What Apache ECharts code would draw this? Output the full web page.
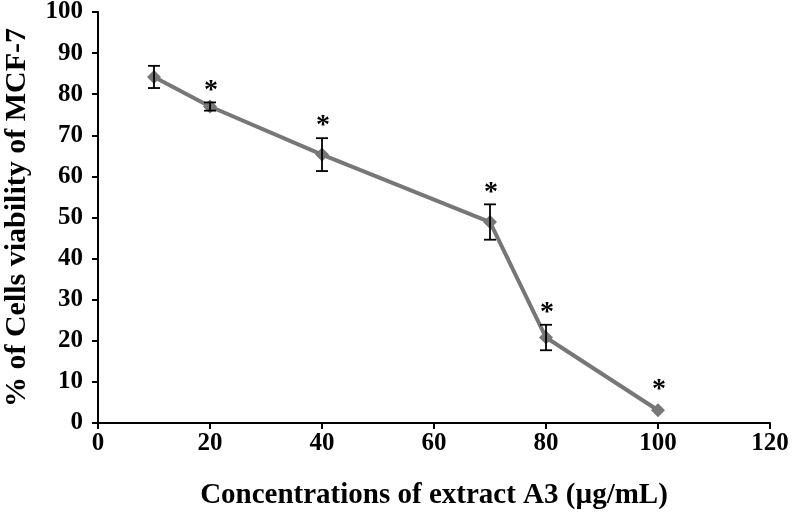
<!DOCTYPE html>
<html><head><meta charset="utf-8">
<script src="https://cdn.jsdelivr.net/npm/echarts@6/dist/echarts.min.js"></script>
<style>html,body{margin:0;padding:0;background:#fff}#c{width:792px;height:515px}</style>
</head><body><div id="c"></div>
<script>
const concentrations = [10, 20, 40, 70, 80, 100];
const viability = [84.2, 77.0, 65.3, 48.9, 20.8, 3.1];
const errors = [2.7, 1.0, 4.0, 4.3, 3.1, 0];
const significant = ['', '*', '*', '*', '*', '*'];
const xTitle = 'Concentrations of extract A3 (\u00b5g/mL)';
const yTitle = '% of Cells viability of MCF-7';

const font = 'Liberation Serif';
const chart = echarts.init(document.getElementById('c'));
const lineData = concentrations.map((x, i) => [x, viability[i]]);
const errData = concentrations.map((x, i) => [x, viability[i], errors[i]]);

chart.setOption({
  animation: false,
  grid: {left: 98, right: 22, top: 12, bottom: 92, containLabel: false, outerBoundsMode: 'none'},
  xAxis: {
    type: 'value', min: 0, max: 120, interval: 20,
    name: xTitle, nameLocation: 'middle', nameGap: 58,
    nameTextStyle: {fontFamily: font, fontWeight: 'bold', fontSize: 29, color: '#000'},
    axisLine: {lineStyle: {color: '#000', width: 2}},
    axisTick: {show: true, length: 6, inside: false, lineStyle: {color: '#000', width: 2}},
    axisLabel: {fontFamily: font, fontWeight: 'bold', fontSize: 25, color: '#000', margin: 8},
    splitLine: {show: false}
  },
  yAxis: {
    type: 'value', min: 0, max: 100, interval: 10,
    name: yTitle, nameLocation: 'middle', nameGap: 66, nameRotate: 90,
    nameTextStyle: {fontFamily: font, fontWeight: 'bold', fontSize: 30, color: '#000'},
    axisLine: {show: true, lineStyle: {color: '#000', width: 2}},
    axisTick: {show: true, length: 6, lineStyle: {color: '#000', width: 2}},
    axisLabel: {fontFamily: font, fontWeight: 'bold', fontSize: 25, color: '#000', margin: 15},
    splitLine: {show: false}
  },
  series: [
    {
      type: 'line', data: lineData,
      symbol: 'diamond', symbolSize: 14,
      lineStyle: {color: '#777777', width: 4},
      itemStyle: {color: '#777777'},
      z: 2
    },
    {
      type: 'custom', data: errData, z: 3,
      renderItem: function (params, api) {
        const x = api.value(0), y = api.value(1), e = api.value(2);
        const star = significant[params.dataIndex];
        const top = api.coord([x, y + e]);
        const bot = api.coord([x, y - e]);
        const w = 6;
        const children = [];
        if (e > 0) {
          const st = {stroke: '#000', lineWidth: 1.8};
          children.push({type: 'line', shape: {x1: top[0], y1: top[1], x2: bot[0], y2: bot[1]}, style: st});
          children.push({type: 'line', shape: {x1: top[0] - w, y1: top[1], x2: top[0] + w, y2: top[1]}, style: st});
          children.push({type: 'line', shape: {x1: bot[0] - w, y1: bot[1], x2: bot[0] + w, y2: bot[1]}, style: st});
        }
        if (star) {
          const base = e > 0 ? top[1] : api.coord([x, y])[1] - 8;
          children.push({type: 'text', style: {
            text: star, x: top[0] + 1, y: base + 2,
            font: 'bold 28px "Liberation Serif"', fill: '#000',
            align: 'center', verticalAlign: 'bottom'
          }});
        }
        return {type: 'group', children: children};
      }
    }
  ]
});
</script></body></html>
